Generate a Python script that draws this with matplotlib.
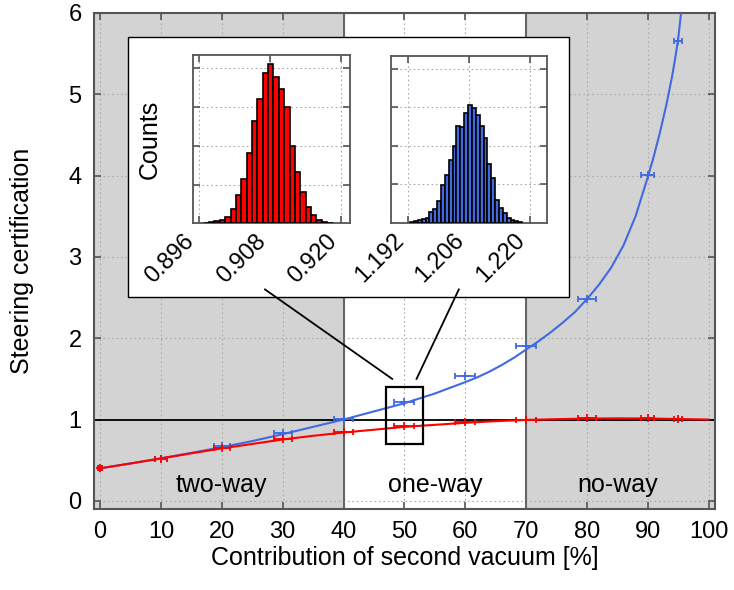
import numpy as np
import matplotlib.pyplot as plt
from matplotlib.patches import Rectangle

plt.rcParams['font.family'] = ['Liberation Sans', 'DejaVu Sans']

# curves
blue_curve_x = [0, 5, 10, 15, 20, 25, 30, 35, 40, 45, 50, 55, 60, 62, 64, 66, 68, 70, 72,
                74, 76, 78, 80, 82, 84, 86, 88, 90, 91, 92, 93, 94, 94.5, 95, 95.5]
blue_curve_y = [0.40, 0.46, 0.525, 0.59, 0.66, 0.735, 0.82, 0.91, 1.0, 1.1, 1.2, 1.32,
                1.46, 1.52, 1.59, 1.67, 1.76, 1.86, 1.96, 2.07, 2.19, 2.32, 2.48, 2.66,
                2.87, 3.14, 3.50, 3.98, 4.24, 4.53, 4.85, 5.22, 5.44, 5.68, 6.02]
red_curve_x = [0, 5, 10, 15, 20, 25, 30, 35, 40, 45, 50, 55, 60, 65, 70, 75, 80, 85, 90, 95, 100]
red_curve_y = [0.40, 0.46, 0.52, 0.585, 0.645, 0.70, 0.755, 0.80, 0.84, 0.875, 0.91, 0.935,
               0.96, 0.98, 0.995, 1.005, 1.012, 1.015, 1.013, 1.007, 1.0]

# measured points
pts_x = [0, 10, 20, 30, 40, 50, 60, 70, 80, 90, 95]
pts_xerr = [0.3, 1.0, 1.33, 1.5, 1.64, 1.65, 1.64, 1.64, 1.45, 1.04, 0.66]
blue_pts = [0.40, 0.52, 0.68, 0.84, 1.01, 1.21, 1.54, 1.91, 2.48, 4.01, 5.65]
red_pts = [0.40, 0.52, 0.655, 0.76, 0.845, 0.915, 0.965, 1.0, 1.02, 1.02, 1.01]

# histograms (counts)
red_bin_start, red_bin_w = 0.8968, 0.000907
red_counts = [17, 26, 50, 80, 160, 360, 720, 1130, 1810, 2630, 3200, 3870, 4110,
              3760, 3460, 2990, 1990, 1320, 820, 430, 220, 80, 35, 10]
blue_bin_start, blue_bin_w = 1.1924, 0.000892
blue_counts = [10, 40, 60, 95, 130, 270, 360, 570, 990, 1240, 1620, 1990, 2510, 2480,
               2860, 3070, 2990, 2810, 2510, 2200, 1530, 1170, 580, 370, 260, 130, 80, 40, 10]

regions = [("two-way", 20), ("one-way", 55), ("no-way", 85)]

spine_c = '#555555'
blue = '#4169e1'
red = '#ff0000'

fig = plt.figure(figsize=(7.34, 5.90), dpi=100)
ax = fig.add_axes([0.1281, 0.1373, 0.8456, 0.8407])

ax.axvspan(-1, 40, color='#d3d3d3', zorder=0, lw=0)
ax.axvspan(70, 101, color='#d3d3d3', zorder=0, lw=0)
ax.axvline(40, color='#666666', lw=1.5, zorder=1.6)
ax.axvline(70, color='#666666', lw=1.5, zorder=1.6)
ax.axhline(1, color='black', lw=1.3, zorder=1.7)

ax.plot(blue_curve_x, blue_curve_y, color=blue, lw=1.5, zorder=3)
ax.plot(red_curve_x, red_curve_y, color=red, lw=1.5, zorder=3)
for ys, c in [(blue_pts, blue), (red_pts, red)]:
    ax.errorbar(pts_x, ys, xerr=pts_xerr, fmt='+', color=c, ms=6, mew=1.3,
                elinewidth=1.3, capsize=2.5, capthick=1.3, zorder=4)

for name, xc in regions:
    ax.text(xc, 0.2, name, ha='center', va='center', fontsize=18)

ax.set_xlim(-1, 101)
ax.set_ylim(-0.1, 6)
ax.set_xticks(range(0, 101, 10))
ax.set_yticks(range(0, 7))
ax.grid(True, ls=(0, (1.5, 2.5)), color='#aaaaaa', lw=0.8)
ax.tick_params(direction='in', top=True, right=True, length=5, width=1.2,
               color=spine_c, labelsize=17, pad=9)
for s in ax.spines.values():
    s.set_color(spine_c)
    s.set_linewidth(1.5)
ax.set_xlabel("Contribution of second vacuum [%]", fontsize=18, labelpad=2)
ax.set_ylabel("Steering certification", fontsize=18, labelpad=25)

# zoom box, inset frame and connectors
ax.add_patch(Rectangle((47, 0.7), 6, 0.7, fill=False, ec='black', lw=1.6, zorder=5))
ax.add_patch(Rectangle((4.6, 2.506), 72.4, 3.194, fc='white', ec='black', lw=1.0, zorder=5))
ax.plot([27.1, 48.0], [2.60, 1.50], color='black', lw=1.3, zorder=6)
ax.plot([58.95, 52.0], [2.60, 1.50], color='black', lw=1.3, zorder=6)

def hist_axes(rect, start, w, counts, color, ticks, labels, xlim):
    h = fig.add_axes(rect)
    edges = start + w * np.arange(len(counts))
    h.bar(edges, counts, width=w, align='edge', color=color, edgecolor='black', lw=1.2,
          zorder=3)
    h.set_xlim(*xlim)
    h.set_ylim(0, 4340)
    h.set_xticks(ticks)
    h.set_xticklabels(labels, rotation=45, ha='right')
    h.set_yticks([1000, 2000, 3000, 4000])
    h.set_yticklabels([])
    h.grid(True, ls=(0, (1.5, 2.5)), color='#aaaaaa', lw=0.8)
    h.tick_params(direction='in', top=True, right=True, length=5, width=1.2,
                  color=spine_c, labelsize=17, pad=5)
    for s in h.spines.values():
        s.set_color(spine_c)
        s.set_linewidth(1.3)
    return h

h1 = hist_axes([0.2625, 0.6215, 0.2143, 0.2853], red_bin_start, red_bin_w, red_counts, red,
               [0.896, 0.908, 0.920], ["0.896", "0.908", "0.920"], (0.89494, 0.92152))
h1.set_ylabel("Counts", fontsize=18, labelpad=17)
h2 = hist_axes([0.5323, 0.6225, 0.2134, 0.2831], blue_bin_start, blue_bin_w, blue_counts, blue,
               [1.192, 1.206, 1.220], ["1.192", "1.206", "1.220"], (1.18794, 1.22406))

fig.savefig("out.png", dpi=100)
